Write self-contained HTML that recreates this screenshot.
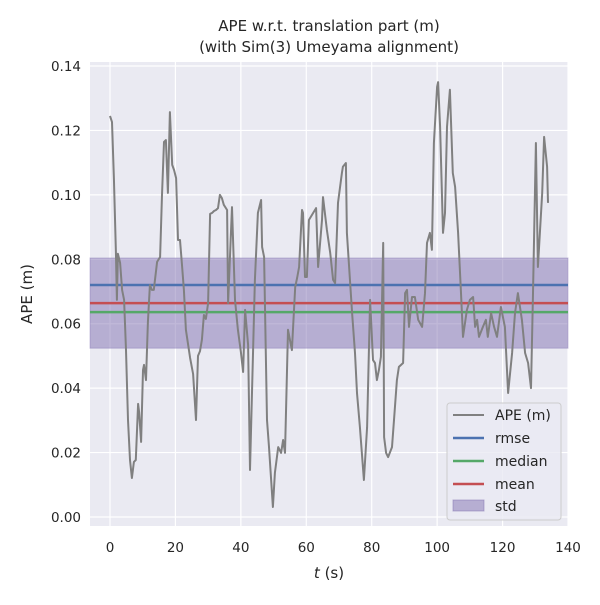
<!DOCTYPE html>
<html><head><meta charset="utf-8"><style>
body{margin:0;background:#fff;}
svg text{font-family:"DejaVu Sans","Liberation Sans",sans-serif;fill:#262626;}
</style></head><body>
<svg id="chart" width="600" height="600" viewBox="0 0 600 600">
<rect x="90" y="62" width="478" height="464" fill="#EAEAF2"/>
<g id="grid"></g>
<g id="stats"></g>
<g id="series"></g>
<g id="axes"></g>
<text x="329" y="31" text-anchor="middle" font-size="15">APE w.r.t. translation part (m)</text>
<text x="329" y="52" text-anchor="middle" font-size="15">(with Sim(3) Umeyama alignment)</text>
<text x="0" y="0" transform="translate(32,294) rotate(-90)" text-anchor="middle" font-size="15">APE (m)</text>
<text x="329" y="578" text-anchor="middle" font-size="15"><tspan font-style="italic">t</tspan> (s)</text>
<g>
<rect x="447" y="403" width="114" height="117" rx="3" fill="#EAEAF2" fill-opacity="0.8" stroke="#cccccc"/>
<line x1="453" y1="415" x2="484" y2="415" stroke="#808080" stroke-width="2"/>
<text x="495" y="420" font-size="14">APE (m)</text>
<line x1="453" y1="438" x2="484" y2="438" stroke="#4C72B0" stroke-width="2.5"/>
<text x="495" y="443" font-size="14">rmse</text>
<line x1="453" y1="461" x2="484" y2="461" stroke="#55A868" stroke-width="2.5"/>
<text x="495" y="466" font-size="14">median</text>
<line x1="453" y1="484" x2="484" y2="484" stroke="#C44E52" stroke-width="2.5"/>
<text x="495" y="489" font-size="14">mean</text>
<rect x="453" y="500" width="31" height="11" fill="#8172B2" fill-opacity="0.5" stroke="#8172B2" stroke-opacity="0.5"/>
<text x="495" y="511" font-size="14">std</text>
</g>
</svg>
<script>
const tValues=[0.0,0.6,1.2,1.8,2.1,2.4,3.1,3.7,4.3,4.9,5.5,6.1,6.7,7.3,7.9,8.6,8.9,9.5,10.1,10.4,11.0,11.6,12.2,12.8,13.4,14.4,15.3,15.9,16.5,17.1,17.7,18.3,19.0,19.6,20.2,20.8,21.4,22.0,22.6,23.2,24.5,25.4,26.3,26.9,27.5,28.1,28.7,29.3,30.0,30.6,31.2,31.8,32.4,33.0,33.6,34.2,34.8,35.8,36.1,37.3,38.2,39.1,40.0,40.7,41.3,42.2,42.8,44.3,45.2,46.2,46.5,47.1,48.0,48.6,49.8,50.4,51.4,52.3,52.9,53.5,54.4,55.6,56.6,57.2,57.8,58.7,59.0,59.6,60.2,60.8,62.1,63.0,63.6,64.8,65.1,66.3,67.3,68.2,68.8,69.7,70.9,71.2,72.1,72.4,74.0,74.9,75.5,76.4,77.6,78.6,79.5,80.4,81.0,81.6,82.2,82.8,83.5,83.8,84.4,85.0,86.2,86.8,87.7,88.3,89.6,90.2,90.8,91.4,92.3,93.2,94.2,95.4,96.3,96.9,97.8,98.4,99.0,100.0,100.3,100.9,101.8,102.4,103.0,103.9,104.8,105.5,106.4,107.3,107.9,109.1,110.0,111.0,111.6,112.2,112.8,114.0,114.9,115.5,116.5,117.4,118.3,119.5,120.7,121.7,122.9,123.8,124.7,125.9,126.9,127.8,128.7,129.3,130.2,130.8,132.1,132.7,133.6,133.9];
const apeValues=[0.1245,0.1226,0.1052,0.0823,0.0674,0.0817,0.0789,0.0705,0.0674,0.0518,0.0301,0.0177,0.0121,0.0171,0.0177,0.0351,0.0326,0.0233,0.0456,0.0472,0.0425,0.0605,0.0720,0.0705,0.0705,0.0792,0.0807,0.1000,0.1164,0.1170,0.1006,0.1257,0.1093,0.1077,0.1052,0.0860,0.0860,0.0782,0.0705,0.0581,0.0494,0.0444,0.0301,0.0500,0.0515,0.0550,0.0627,0.0615,0.0664,0.0941,0.0944,0.0950,0.0953,0.0959,0.1000,0.0990,0.0969,0.0953,0.0664,0.0962,0.0674,0.0581,0.0512,0.0450,0.0643,0.0534,0.0146,0.0736,0.0944,0.0984,0.0838,0.0807,0.0301,0.0217,0.0031,0.0137,0.0217,0.0199,0.0239,0.0199,0.0581,0.0518,0.0714,0.0742,0.0776,0.0953,0.0944,0.0745,0.0745,0.0922,0.0944,0.0959,0.0776,0.0922,0.0993,0.0891,0.0820,0.0736,0.0726,0.0975,0.1068,0.1087,0.1099,0.0882,0.0633,0.0509,0.0385,0.0279,0.0115,0.0279,0.0674,0.0487,0.0478,0.0425,0.0456,0.0497,0.0851,0.0248,0.0199,0.0186,0.0217,0.0301,0.0425,0.0466,0.0478,0.0695,0.0705,0.0590,0.0683,0.0683,0.0612,0.0590,0.0695,0.0851,0.0882,0.0829,0.1161,0.1335,0.1350,0.1211,0.0882,0.0944,0.1211,0.1326,0.1068,0.1025,0.0882,0.0695,0.0559,0.0643,0.0674,0.0683,0.0590,0.0612,0.0559,0.0590,0.0612,0.0559,0.0633,0.0590,0.0559,0.0652,0.0590,0.0385,0.0509,0.0633,0.0695,0.0612,0.0509,0.0478,0.0400,0.0695,0.1161,0.0776,0.1006,0.1180,0.1087,0.0975];
const rmseValue=0.0720;
const meanValue=0.0664;
const medianValue=0.0636;
const stdValue=0.0140;
const xTicks=[0,20,40,60,80,100,120,140];
const yTicks=[0.00,0.02,0.04,0.06,0.08,0.10,0.12,0.14];
const yTickLabels=["0.00","0.02","0.04","0.06","0.08","0.10","0.12","0.14"];

const NS="http://www.w3.org/2000/svg";
const X0=90,X1=568,Y0=526,Y1=62;
function xs(t){return 110+t*(458/140);}
function ys(v){return 517-v*(451/0.14);}
function mk(tag,attrs,parent){const e=document.createElementNS(NS,tag);for(const k in attrs)e.setAttribute(k,attrs[k]);parent.appendChild(e);return e;}
const grid=document.getElementById('grid'),axes=document.getElementById('axes'),stats=document.getElementById('stats'),series=document.getElementById('series');
xTicks.forEach(t=>{
 const l=mk('line',{x1:xs(t),x2:xs(t),y1:Y1,y2:Y0,stroke:'#fff','stroke-width':1.2},grid);
 
 
 const tx=mk('text',{x:xs(t),y:552,'text-anchor':'middle','font-size':13.5},axes);
 tx.textContent=t;
 
 
});
yTicks.forEach((v,i)=>{
 const l=mk('line',{x1:X0,x2:X1,y1:ys(v),y2:ys(v),stroke:'#fff','stroke-width':1.2},grid);
 
 
 const tx=mk('text',{x:81,y:ys(v)+5,'text-anchor':'end','font-size':13.5},axes);
 tx.textContent=yTickLabels[i];
 
 
});
const band=mk('rect',{x:X0,width:X1-X0,y:ys(meanValue+stdValue),height:ys(meanValue-stdValue)-ys(meanValue+stdValue),fill:'#8172B2','fill-opacity':0.5,stroke:'#8172B2','stroke-opacity':0.4},stats);


[[rmseValue,'#4C72B0','rmse-line'],[medianValue,'#55A868','median-line'],[meanValue,'#C44E52','mean-line']].forEach(s=>{
 const l=mk('line',{x1:X0,x2:X1,y1:ys(s[0]),y2:ys(s[0]),stroke:s[1],'stroke-width':2.5},stats);
 
 
});
const pts=tValues.map((t,i)=>xs(t).toFixed(1)+','+ys(apeValues[i]).toFixed(1)).join(' ');
const pl=mk('polyline',{points:pts,fill:'none',stroke:'#808080','stroke-width':2,'stroke-linejoin':'round'},series);


</script>
</body></html>
